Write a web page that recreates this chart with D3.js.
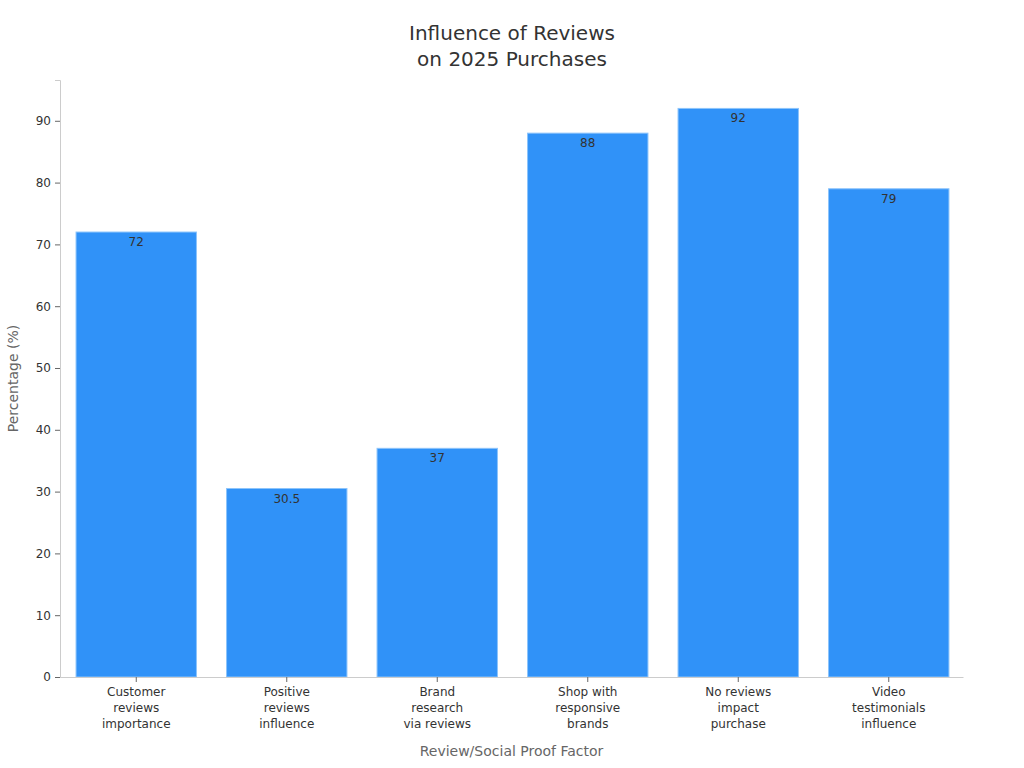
<!DOCTYPE html>
<html lang="en">
<head>
    <meta charset="UTF-8">
    <script src="https://d3js.org/d3.v7.min.js"></script>
    <style>
        html, body { margin: 0; height: 100%; overflow: hidden; background: #fff; }
        svg { display: block; }
        text { font-family: "DejaVu Sans", sans-serif; }
    </style>
    <title>Influence of Reviews on 2025 Purchases</title>
</head>
<body>
<svg id="svg"></svg>
<script>
    const categories = [
        ['Customer', 'reviews', 'importance'],
        ['Positive', 'reviews', 'influence'],
        ['Brand', 'research', 'via reviews'],
        ['Shop with', 'responsive', 'brands'],
        ['No reviews', 'impact', 'purchase'],
        ['Video', 'testimonials', 'influence']
    ];
    const values = [72, 30.5, 37, 88, 92, 79];
    const yTicks = [0, 10, 20, 30, 40, 50, 60, 70, 80, 90];
    const titleLines = ['Influence of Reviews', 'on 2025 Purchases'];

    const width = 1024, height = 768;
    const margin = { top: 80, left: 60, bottom: 91, right: 61 };
    const innerWidth = width - margin.left - margin.right;
    const innerHeight = height - margin.top - margin.bottom;

    const svg = d3.select('#svg').attr('width', width).attr('height', height);

    // title, one text per line
    svg.selectAll('text.title').data(titleLines).join('text')
        .attr('class', 'title')
        .attr('x', width / 2)
        .attr('y', (d, i) => 40 + i * 26)
        .attr('text-anchor', 'middle')
        .attr('font-size', 20).attr('fill', '#333')
        .text(d => d);

    const g = svg.append('g').attr('transform', `translate(${margin.left}, ${margin.top})`);

    const x = d3.scaleBand()
        .domain(d3.range(categories.length))
        .range([1, innerWidth + 1])
        .paddingInner(0.2).paddingOuter(0.1);

    const y = d3.scaleLinear()
        .domain([0, d3.max(values) * 1.05])
        .range([innerHeight, 0]);

    // bars
    g.selectAll('rect.bar').data(values).join('rect')
        .attr('class', 'bar')
        .attr('x', (d, i) => x(i))
        .attr('y', d => y(d))
        .attr('width', x.bandwidth())
        .attr('height', d => innerHeight - y(d))
        .attr('fill', '#3092f8')
        .attr('stroke', '#8cc4fb')
        .attr('stroke-width', 1);

    // value labels
    g.selectAll('text.val').data(values).join('text')
        .attr('class', 'val')
        .attr('x', (d, i) => x(i) + x.bandwidth() / 2)
        .attr('y', d => y(d) + 14)
        .attr('text-anchor', 'middle')
        .attr('font-size', 12)
        .attr('fill', '#333')
        .text(d => d);

    // y axis
    const yAxis = g.append('g')
        .call(d3.axisLeft(y).tickValues(yTicks).tickSize(5).tickPadding(4));
    yAxis.select('.domain').attr('stroke', '#ccc');
    yAxis.selectAll('.tick line').attr('stroke', '#666');
    yAxis.selectAll('.tick text').attr('font-size', 12).attr('fill', '#333')
        .attr('font-family', '"DejaVu Sans", sans-serif');

    // x axis
    const xAxis = g.append('g')
        .attr('transform', `translate(0, ${innerHeight})`)
        .call(d3.axisBottom(x.copy().range([0, innerWidth])).tickSize(5).tickSizeOuter(0).tickFormat(''));
    xAxis.attr('transform', `translate(1, ${innerHeight})`);
    xAxis.select('.domain').attr('stroke', '#ccc').attr('transform', 'translate(-1,0)');
    xAxis.selectAll('.tick line').attr('stroke', '#666');
    xAxis.selectAll('.tick').each(function (i) {
        d3.select(this).selectAll('text.cat').data(categories[i]).join('text')
            .attr('class', 'cat')
            .attr('x', 0)
            .attr('y', (d, j) => 19 + j * 16)
            .attr('text-anchor', 'middle')
            .attr('font-size', 12).attr('fill', '#333')
            .attr('font-family', '"DejaVu Sans", sans-serif')
            .text(d => d);
    });

    // axis titles
    svg.append('text')
        .attr('x', margin.left + innerWidth / 2)
        .attr('y', height - 12)
        .attr('text-anchor', 'middle')
        .attr('font-size', 14).attr('fill', '#666')
        .text('Review/Social Proof Factor');

    svg.append('text')
        .attr('transform', `translate(18, ${margin.top + innerHeight / 2}) rotate(-90)`)
        .attr('text-anchor', 'middle')
        .attr('font-size', 14).attr('fill', '#666')
        .text('Percentage (%)');
</script>
</body>
</html>
